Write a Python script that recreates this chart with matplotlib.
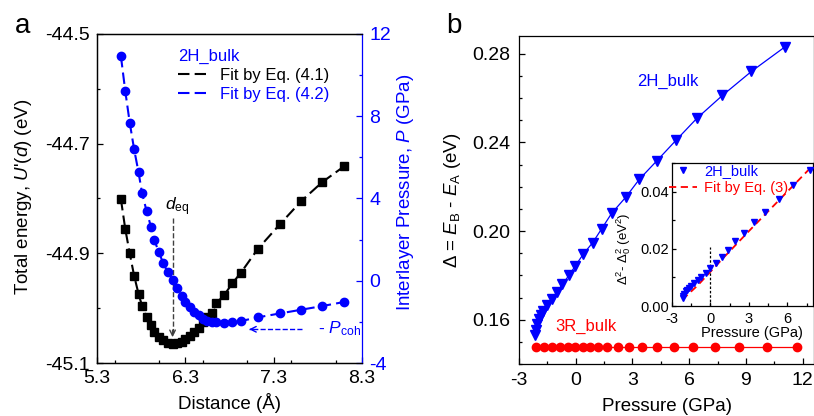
import matplotlib
matplotlib.use("Agg")
import matplotlib.pyplot as plt
from matplotlib.lines import Line2D
from matplotlib.ticker import MultipleLocator

plt.rcParams['font.family'] = ['Liberation Sans', 'DejaVu Sans']
plt.rcParams['mathtext.fontset'] = 'custom'
plt.rcParams['mathtext.rm'] = 'Liberation Sans'
plt.rcParams['mathtext.it'] = 'Liberation Sans:italic'
plt.rcParams['axes.unicode_minus'] = False

# panel a - distance (A), total energy (eV), interlayer pressure (GPa)
dist = [5.57, 5.62, 5.67, 5.72, 5.77, 5.81, 5.86, 5.91, 5.95, 6.00, 6.05,
        6.10, 6.16, 6.21, 6.26, 6.30, 6.35, 6.40, 6.45, 6.50, 6.55, 6.60,
        6.65, 6.74, 6.83, 6.93, 7.12, 7.37, 7.61, 7.85, 8.10]
energy = [-44.801, -44.856, -44.900, -44.941, -44.974, -44.996, -45.017,
          -45.031, -45.043, -45.052, -45.058, -45.063, -45.065, -45.064,
          -45.061, -45.056, -45.050, -45.044, -45.036, -45.025, -45.016,
          -45.008, -44.991, -44.976, -44.955, -44.935, -44.892, -44.847,
          -44.805, -44.770, -44.741]
pressure = [10.93, 9.21, 7.69, 6.39, 5.27, 4.25, 3.41, 2.63, 1.97, 1.38, 0.85,
            0.42, 0.02, -0.37, -0.73, -1.03, -1.29, -1.52, -1.68, -1.85, -1.94,
            -2.01, -2.01, -2.04, -2.01, -1.96, -1.78, -1.59, -1.41, -1.23, -1.03]
d_eq = 6.155
p_coh = -2.36

# panel b - gap vs pressure
p_2h = [-2.16, -2.12, -2.05, -1.94, -1.85, -1.71, -1.52, -1.27, -1.00, -0.71,
        -0.35, -0.02, 0.40, 0.90, 1.37, 1.90, 2.64, 3.36, 4.29, 5.31, 6.40,
        7.76, 9.29, 11.05]
gap_2h = [0.1530, 0.1555, 0.1580, 0.1605, 0.1620, 0.1640, 0.1664, 0.1693,
          0.1725, 0.1759, 0.1801, 0.1843, 0.1896, 0.1948, 0.2010, 0.2080,
          0.2152, 0.2233, 0.2317, 0.2410, 0.2508, 0.2612, 0.2720, 0.2830]
p_3r = [-2.08, -1.66, -1.24, -0.83, -0.42, -0.02, 0.37, 0.75, 1.19, 1.67,
        2.22, 2.81, 3.48, 4.29, 5.19, 6.19, 7.34, 8.64, 10.12, 11.72]
gap_3r = [0.1477, 0.1477, 0.1477, 0.1477, 0.1477, 0.1477, 0.1477, 0.1477,
          0.1477, 0.1477, 0.1477, 0.1477, 0.1477, 0.1477, 0.1477, 0.1477,
          0.1477, 0.1477, 0.1477, 0.1477]

# inset
p_in = [-2.16, -2.12, -2.05, -1.94, -1.85, -1.71, -1.52, -1.27, -1.00, -0.71,
        -0.35, -0.02, 0.40, 0.90, 1.37, 1.90, 2.64, 3.36, 4.29, 5.31, 6.40, 7.76]
dsq_in = [0.0027, 0.0035, 0.0043, 0.0051, 0.0055, 0.0062, 0.0070, 0.0080,
          0.0091, 0.0102, 0.0117, 0.0133, 0.0152, 0.0172, 0.0197, 0.0226,
          0.0256, 0.0292, 0.0330, 0.0374, 0.0422, 0.0475]
p_fit = [-2.2, -1, 0, 1, 2, 3, 4, 5, 6, 7, 8]
dsq_fit = [0.0022, 0.0072, 0.0120, 0.0168, 0.0215, 0.0262, 0.0308, 0.0354,
           0.0400, 0.0446, 0.0492]

BLUE = '#0000ff'
RED = '#ff0000'
TICK_FS = 14
LAB_FS = 13.5
DASH = (5.5, 2.5)

fig = plt.figure(figsize=(8.14, 4.16), dpi=100)


def style_ticks(ax, fs, pad):
    ax.tick_params(which='both', direction='in', labelsize=fs, pad=pad, width=0.9)
    ax.tick_params(which='major', length=4)
    ax.tick_params(which='minor', length=2.5)
    for s in ax.spines.values():
        s.set_linewidth(0.9)


# ---------------- panel a ----------------
ax = fig.add_axes([0.1192, 0.1274, 0.3256, 0.7909])
ax2 = ax.twinx()

ax.plot(dist, energy, color='k', ls='--', dashes=DASH, lw=1.5,
        marker='s', ms=5.2, zorder=3)
ax2.plot(dist, pressure, color=BLUE, ls='--', dashes=DASH, lw=1.5,
         marker='o', ms=6, zorder=3)

ax.set_xlim(5.3, 8.3)
ax.set_ylim(-45.1, -44.5)
ax.set_xticks([5.3, 6.3, 7.3, 8.3])
ax.xaxis.set_minor_locator(MultipleLocator(0.5))
ax.set_yticks([-45.1, -44.9, -44.7, -44.5])
ax.yaxis.set_minor_locator(MultipleLocator(0.1))
ax.yaxis.set_major_formatter(matplotlib.ticker.FormatStrFormatter('%.1f'))
style_ticks(ax, TICK_FS, 5)
ax.tick_params(right=False, top=False)
ax.spines['right'].set_visible(False)

ax2.set_ylim(-4, 12)
ax2.set_yticks([-4, 0, 4, 8, 12])
ax2.yaxis.set_minor_locator(MultipleLocator(2))
style_ticks(ax2, TICK_FS, 5)
ax2.tick_params(axis='y', which='both', colors=BLUE)
ax2.spines['right'].set_color(BLUE)

ax.set_xlabel('Distance (Å)', fontsize=LAB_FS, va='center')
ax.xaxis.set_label_coords(0.5, -0.122)
ax.set_ylabel("Total energy, $U$'($d$) (eV)", fontsize=LAB_FS, va='center')
ax.yaxis.set_label_coords(-0.277, 0.505)
ax2.set_ylabel('Interlayer Pressure, $P$ (GPa)', fontsize=LAB_FS,
               color=BLUE, va='center', rotation=90)
ax2.yaxis.set_label_coords(1.162, 0.52)

# d_eq marker
ax.plot([d_eq, d_eq], [-44.836, -45.045], color='0.25', ls='--', lw=1)
ax.annotate('', xy=(d_eq, -45.058), xytext=(d_eq, -45.035),
            arrowprops=dict(arrowstyle='->', color='0.25', lw=1))
ax.text(6.075, -44.815, r'$d_{\rm eq}$', fontsize=12.5, va='center', ha='left')

# P_coh marker
ax2.plot([7.62, 7.02], [p_coh, p_coh], color=BLUE, ls='--', lw=1)
ax2.annotate('', xy=(6.99, p_coh), xytext=(7.10, p_coh),
             arrowprops=dict(arrowstyle='->', color=BLUE, lw=1))
ax2.text(7.80, p_coh + 0.02, r'- $P_{\rm coh}$', fontsize=12.5, color=BLUE,
         va='center', ha='left')

handles = [Line2D([], [], color='k', ls='--', dashes=DASH, lw=1.5),
           Line2D([], [], color=BLUE, ls='--', dashes=DASH, lw=1.5)]
leg = ax2.legend(handles, ['Fit by Eq. (4.1)', 'Fit by Eq. (4.2)'],
                 title='2H_bulk', alignment='left', loc='upper left',
                 bbox_to_anchor=(0.306, 0.955), frameon=False, fontsize=12,
                 title_fontsize=12, borderpad=0, borderaxespad=0,
                 handlelength=1.7, handletextpad=0.8, labelspacing=0.25,
                 labelcolor=['k', BLUE])
leg.get_title().set_color(BLUE)

fig.text(0.018, 0.92, 'a', fontsize=20, ha='left', va='baseline')

# ---------------- panel b ----------------
bx = fig.add_axes([0.6376, 0.125, 0.3624, 0.7885])
bx.plot(p_2h, gap_2h, color=BLUE, lw=0.9, marker='v', ms=6.7, zorder=3)
bx.plot(p_3r, gap_3r, color=RED, lw=0.9, marker='o', ms=6, zorder=3)

bx.set_xlim(-3, 12.6)
bx.set_ylim(0.140, 0.288)
bx.set_xticks([-3, 0, 3, 6, 9, 12])
bx.xaxis.set_minor_locator(MultipleLocator(1.5))
bx.set_yticks([0.16, 0.20, 0.24, 0.28])
bx.yaxis.set_minor_locator(MultipleLocator(0.01))
bx.yaxis.set_major_formatter(matplotlib.ticker.FormatStrFormatter('%.2f'))
style_ticks(bx, TICK_FS, 6)
bx.tick_params(right=False, top=False)

bx.set_xlabel('Pressure (GPa)', fontsize=LAB_FS, va='center')
bx.xaxis.set_label_coords(0.5, -0.131)
bx.set_ylabel(r'Δ = $E_{\rm B}$ - $E_{\rm A}$ (eV)', fontsize=LAB_FS, va='center')
bx.yaxis.set_label_coords(-0.224, 0.5)

bx.text(3.25, 0.2677, '2H_bulk', color=BLUE, fontsize=12, va='center', ha='left')
bx.text(-1.09, 0.157, '3R_bulk', color=RED, fontsize=12, va='center', ha='left')

fig.text(0.548, 0.92, 'b', fontsize=20, ha='left', va='baseline')

# ---------------- inset ----------------
ix = fig.add_axes([0.8256, 0.2644, 0.1732, 0.3438])
ix.set_facecolor('white')
ix.plot(p_fit, dsq_fit, color=RED, ls='--', dashes=(4, 2.5), lw=1.3, zorder=2,
        label='Fit by Eq. (3)')
ix.plot(p_in, dsq_in, ls='none', color=BLUE, marker='v', ms=4, zorder=3,
        label='2H_bulk')
ix.plot([0, 0], [0, 0.0208], color='k', ls='--', dashes=(2, 1.5), lw=0.9)

ix.set_xlim(-3, 8)
ix.set_ylim(0, 0.05)
ix.set_xticks([-3, 0, 3, 6])
ix.xaxis.set_minor_locator(MultipleLocator(1.5))
ix.set_yticks([0.0, 0.02, 0.04])
ix.yaxis.set_minor_locator(MultipleLocator(0.01))
ix.yaxis.set_major_formatter(matplotlib.ticker.FormatStrFormatter('%.2f'))
style_ticks(ix, 10.5, 2)
ix.tick_params(which='major', length=3)
ix.tick_params(which='minor', length=2)
ix.tick_params(right=False, top=False)
ix.tick_params(axis='x', pad=4)

ix.set_xlabel('Pressure (GPa)', fontsize=10.5, va='center')
ix.xaxis.set_label_coords(0.567, -0.19)
ix.set_ylabel(r'Δ$^2$- Δ$_0^2$ (eV$^2$)', fontsize=9.5, va='center')
ix.yaxis.set_label_coords(-0.34, 0.40)

h, l = ix.get_legend_handles_labels()
ix.legend([h[1], h[0]], [l[1], l[0]], loc='upper left',
          bbox_to_anchor=(-0.03, 1.0), frameon=False, fontsize=10.5,
          borderpad=0.1, borderaxespad=0, handlelength=1.9,
          handletextpad=0.5, labelspacing=0.15, labelcolor=[BLUE, RED])

fig.savefig('out.png', dpi=100)
